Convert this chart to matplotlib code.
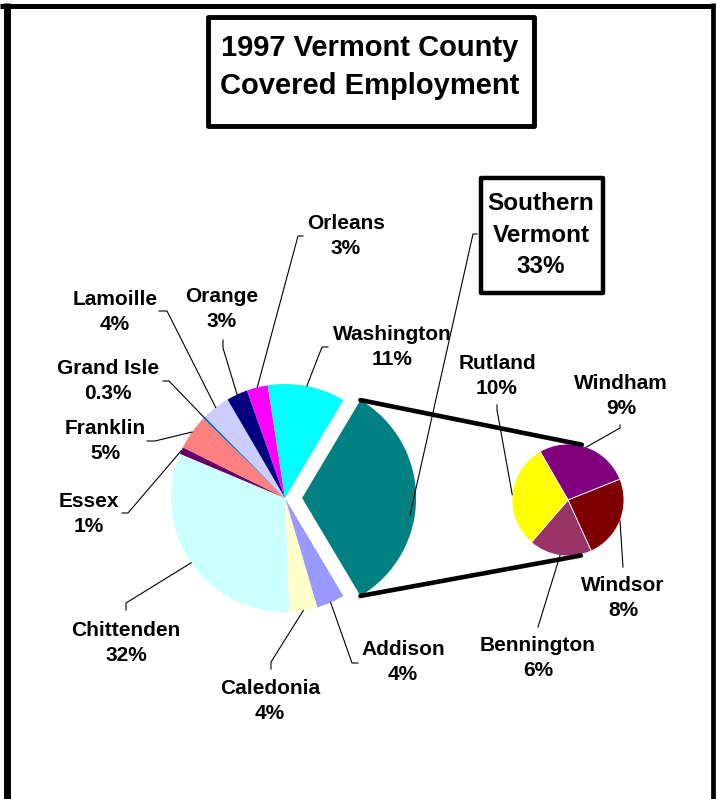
import math
import matplotlib
matplotlib.use("Agg")
import matplotlib.pyplot as plt
from matplotlib.patches import Rectangle

# ---------------- data ----------------
main_labels = ["Addison", "Caledonia", "Chittenden", "Essex", "Franklin", "Grand Isle",
               "Lamoille", "Orange", "Orleans", "Washington", "Southern\nVermont"]
main_values = [4, 4, 32, 1, 5, 0.3, 4, 3, 3, 11, 33]
main_colors = ["#9999FF", "#FFFFCC", "#CCFFFF", "#660066", "#FF8080", "#0066CC",
               "#CCCCFF", "#000080", "#FF00FF", "#00FFFF", "#008080"]

sub_labels = ["Windham", "Windsor", "Bennington", "Rutland"]
sub_values = [9, 8, 6, 10]
sub_colors = ["#800080", "#800000", "#993366", "#FFFF00"]

title_lines = ["1997 Vermont County", "Covered Employment"]

# ---------------- layout ----------------
W, H = 720, 799
def Y(py):
    return H - py

FONT = ["Liberation Sans", "DejaVu Sans"]
plt.rcParams["font.family"] = FONT

fig = plt.figure(figsize=(7.2, 7.99), dpi=100)
ax = fig.add_axes([0, 0, 1, 1])

# main pie
total_main = sum(main_values)
sv_angle = main_values[-1] / total_main * 360.0
main_center = (285, Y(498))
main_r = 114
explode = [0] * (len(main_values) - 1) + [0.15 * main_r]   # pie() uses data units
wedges_main, _ = ax.pie(main_values, colors=main_colors, startangle=-sv_angle / 2,
                        counterclock=False, explode=explode, center=main_center,
                        radius=main_r, wedgeprops=dict(linewidth=0),
                        normalize=True, frame=True)

# secondary pie
sub_center = (568, Y(500))
sub_r = 56
wedges_sub, _ = ax.pie(sub_values, colors=sub_colors, startangle=120, counterclock=False,
                       center=sub_center, radius=sub_r,
                       wedgeprops=dict(linewidth=0.6, edgecolor="white"),
                       normalize=True, frame=True)
ax.set_xlim(0, W)
ax.set_ylim(0, H)
ax.set_aspect("equal")
ax.axis("off")

# frame
ax.plot([0, 715], [Y(5.5), Y(5.5)], color="black", lw=3.6, solid_capstyle="butt")
ax.plot([6.5, 6.5], [Y(3), Y(H + 5)], color="black", lw=5.0, solid_capstyle="butt")
ax.plot([713, 713], [Y(3), Y(H + 5)], color="black", lw=3.4, solid_capstyle="butt")

# title box
ax.add_patch(Rectangle((207.5, Y(125.5)), 326, 109, fill=False, ec="black", lw=3.5,
                       joinstyle="round"))
ax.text(370, Y(67), "\n".join(title_lines), ha="center", va="center", fontsize=21,
        fontweight="bold", linespacing=1.5)

def wedge_point(w, frac=1.0, ang=None):
    t1, t2 = w.theta1, w.theta2
    a = math.radians((t1 + t2) / 2 if ang is None else ang)
    cx, cy = w.center
    return cx + w.r * frac * math.cos(a), cy + w.r * frac * math.sin(a)

# connector lines between exploded wedge and secondary pie
sv = wedges_main[-1]
top_main = wedge_point(sv, ang=sv.theta2)
bot_main = wedge_point(sv, ang=sv.theta1)
top_sub = (sub_center[0] + 57 * math.cos(math.radians(76)),
           sub_center[1] + 57 * math.sin(math.radians(76)))
bot_sub = (sub_center[0] + 57 * math.cos(math.radians(-77)),
           sub_center[1] + 57 * math.sin(math.radians(-77)))
for a, b in [(top_main, top_sub), (bot_main, bot_sub)]:
    ax.plot([a[0], b[0]], [a[1], b[1]], color="black", lw=3.3, solid_capstyle="round")

# labels: text centre (px) and leader knee points (px)
main_layout = {
    "Addison":    ((403, 662), [(358, 663), (352, 663)]),
    "Caledonia":  ((270, 701), [(271, 669), (271, 662)]),
    "Chittenden": ((126, 643), [(126, 610), (126, 603)]),
    "Essex":      ((89, 514),  [(122, 513), (128, 513)]),
    "Franklin":   ((105, 441), [(147, 441), (155, 441)]),
    "Grand Isle": ((108, 381), [(163, 381), (169, 381)]),
    "Lamoille":   ((115, 312), [(159, 311), (167, 311)]),
    "Orange":     ((222, 309), [(223, 340), (223, 348)]),
    "Orleans":    ((346, 236), [(303, 236), (298, 236)]),
    "Washington": ((392, 347), [(328, 347), (322, 347)]),
}
sub_layout = {
    "Windham":    ((621, 396), [(620, 425), (620, 428)]),
    "Windsor":    ((623, 598), [(623, 567)]),
    "Bennington": ((538, 658), [(538, 627)]),
    "Rutland":    ((497, 376), [(497, 405), (497, 410)]),
}

def fmt_pct(v):
    return f"{v:g}%"

LBL = dict(ha="center", va="center", fontsize=15, fontweight="bold", linespacing=1.42)

for w, name, val in zip(wedges_main[:-1], main_labels[:-1], main_values[:-1]):
    (tx, ty), knees = main_layout[name]
    ax.text(tx, Y(ty), f"{name}\n{fmt_pct(val)}", **LBL)
    ex, ey = wedge_point(w)
    xs = [k[0] for k in knees] + [ex]
    ys = [Y(k[1]) for k in knees] + [ey]
    ax.plot(xs, ys, color="black", lw=0.8)

for w, name, val in zip(wedges_sub, sub_labels, sub_values):
    (tx, ty), knees = sub_layout[name]
    ax.text(tx, Y(ty), f"{name}\n{fmt_pct(val)}", **LBL)
    ex, ey = wedge_point(w)
    xs = [k[0] for k in knees] + [ex]
    ys = [Y(k[1]) for k in knees] + [ey]
    ax.plot(xs, ys, color="black", lw=0.8)

# Southern Vermont boxed label
ax.add_patch(Rectangle((480.5, Y(292.5)), 122, 115, fill=False, ec="black", lw=3.2,
                       joinstyle="round", zorder=3))
ax.text(541, Y(235), f"{main_labels[-1]}\n{fmt_pct(main_values[-1])}", ha="center",
        va="center", fontsize=17.5, fontweight="bold", linespacing=1.45, zorder=4)
ax.plot([477, 473, 410], [Y(234), Y(234), Y(515)], color="black", lw=0.8)

fig.savefig("out.png", dpi=100)
